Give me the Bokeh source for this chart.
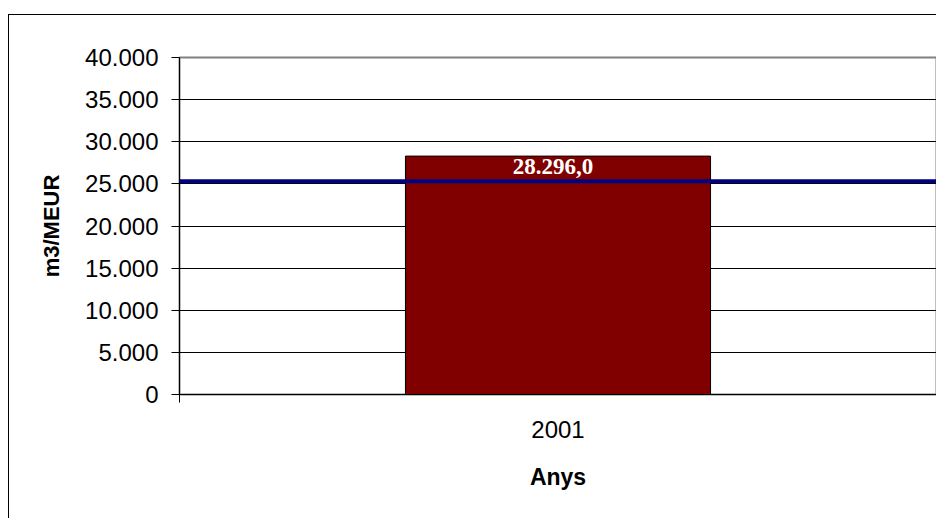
from bokeh.plotting import figure
from bokeh.models import Range1d, FixedTicker, Span, ColumnDataSource, LabelSet
from bokeh.embed import file_html
from bokeh.resources import INLINE
from bokeh.core.properties import value

# ---- data ----
years = ["2001"]
year_pos = [0.5]
consum = [28296.0]
consum_labels = ["28.296,0"]
referencia = 25300.0
y_ticks = [0, 5000, 10000, 15000, 20000, 25000, 30000, 35000, 40000]
y_tick_labels = ["0", "5.000", "10.000", "15.000", "20.000", "25.000", "30.000", "35.000", "40.000"]

src = ColumnDataSource(dict(x=year_pos, top=consum, label=consum_labels))

p = figure(width=928, height=504, output_backend="svg", toolbar_location=None,
           x_range=Range1d(0, 1), y_range=Range1d(0, 40000),
           min_border_left=170, min_border_right=1, min_border_top=42, min_border_bottom=125)
p.margin = (14, 0, 0, 8)
p.styles = {"border-top": "1px solid black", "border-left": "1px solid black"}

p.background_fill_color = "white"
p.border_fill_color = "white"
p.outline_line_color = "#808080"
p.outline_line_width = 2

p.vbar(x="x", top="top", width=0.403, source=src, fill_color="#800000", line_color="black", line_width=1)

p.add_layout(Span(location=referencia, dimension="width", line_color="#000080", line_width=4))

labels = LabelSet(x="x", y="top", text="label", source=src, text_color="white",
                  text_font=value("Liberation Serif"), text_font_style="bold", text_font_size="23px",
                  text_align="center", text_baseline="top", y_offset=-3, x_offset=-5)
p.add_layout(labels)

# y axis
ya = p.yaxis[0]
ya.ticker = FixedTicker(ticks=y_ticks)
ya.major_label_overrides = {t: l for t, l in zip(y_ticks, y_tick_labels)}
ya.major_label_text_font = "Liberation Sans"
ya.major_label_text_font_size = "24px"
ya.major_label_text_color = "black"
ya.major_tick_out = 8
ya.major_tick_in = 0
ya.minor_tick_line_color = None
ya.major_label_standoff = 13
ya.axis_line_color = "black"
ya.axis_label = "m3/MEUR"
ya.axis_label_text_font = "Liberation Sans"
ya.axis_label_text_font_style = "bold"
ya.axis_label_text_font_size = "22px"
ya.axis_label_text_color = "black"
ya.axis_label_standoff = 18

# x axis
xa = p.xaxis[0]
xa.ticker = FixedTicker(ticks=year_pos, minor_ticks=[0, 1])
xa.major_label_overrides = {pos: y for pos, y in zip(year_pos, years)}
xa.major_tick_out = 0
xa.major_tick_in = 0
xa.minor_tick_out = 8
xa.minor_tick_in = 0
xa.minor_tick_line_color = "black"
xa.major_label_text_font = "Liberation Sans"
xa.major_label_text_font_size = "24px"
xa.major_label_text_color = "black"
xa.major_label_standoff = 18
xa.axis_line_color = "black"
xa.axis_label = "Anys"
xa.axis_label_text_font = "Liberation Sans"
xa.axis_label_text_font_style = "bold"
xa.axis_label_text_font_size = "23px"
xa.axis_label_text_color = "black"
xa.axis_label_standoff = 23

p.xgrid.grid_line_color = None
p.ygrid.ticker = FixedTicker(ticks=y_ticks)
p.ygrid.grid_line_color = "black"
p.ygrid.grid_line_width = 1

open("out.html", "w").write(file_html(p, INLINE))
